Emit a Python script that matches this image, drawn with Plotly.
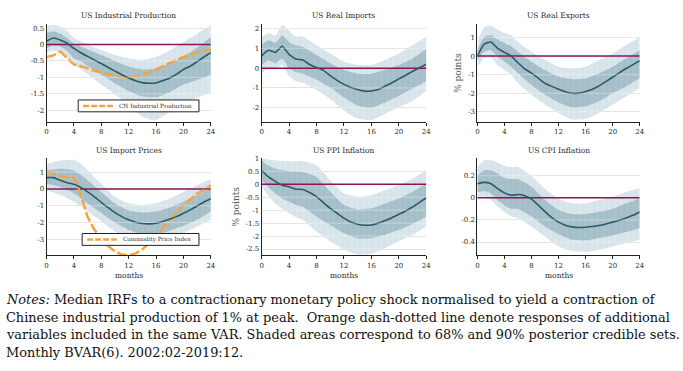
import plotly.graph_objects as go

# ---------------- data ----------------
MONTHS = list(range(25))
BX = [0, 1, 2, 3, 4, 5, 6, 8, 10, 12, 14, 16, 18, 20, 22, 24]   # months where band edges were read
XTICKS = [0, 4, 8, 12, 16, 20, 24]

TITLES = ["US Industrial Production", "US Real Imports", "US Real Exports",
          "US Import Prices", "US PPI Inflation", "US CPI Inflation"]

# Panel 1: US Industrial Production
ip_med = [0.1, 0.2, 0.14, 0.04, -0.12, -0.25, -0.36, -0.47, -0.58, -0.7, -0.81, -0.92, -1.02,
          -1.1, -1.16, -1.18, -1.17, -1.1, -1.02, -0.9, -0.76, -0.66, -0.52, -0.38, -0.25]
ip_ou = [0.55, 0.6, 0.55, 0.42, 0.2, 0.1, 0.0, -0.17, -0.32, -0.42, -0.47, -0.38, -0.18, 0.08, 0.33, 0.6]
ip_iu = [0.35, 0.4, 0.33, 0.2, 0.03, -0.06, -0.15, -0.32, -0.5, -0.67, -0.76, -0.72, -0.58, -0.37, -0.1, 0.23]
ip_il = [-0.12, -0.02, -0.06, -0.2, -0.42, -0.52, -0.65, -0.92, -1.18, -1.42, -1.58, -1.6, -1.45, -1.22, -1.08, -0.92]
ip_ol = [-0.25, -0.18, -0.25, -0.4, -0.62, -0.75, -0.9, -1.22, -1.52, -1.82, -2.2, -2.3, -2.05, -1.77, -1.62, -1.47]
cn_ip = [-0.38, -0.33, -0.22, -0.42, -0.6, -0.66, -0.72, -0.8, -0.85, -0.9, -0.94, -0.98, -1.0,
         -0.98, -0.92, -0.84, -0.76, -0.66, -0.56, -0.47, -0.38, -0.3, -0.24, -0.19, -0.15]

# Panel 2: US Real Imports
im_med = [0.62, 0.9, 0.79, 1.1, 0.69, 0.46, 0.41, 0.18, 0.03, -0.11, -0.38, -0.62, -0.82,
          -0.97, -1.08, -1.16, -1.15, -1.08, -0.9, -0.74, -0.54, -0.36, -0.16, 0.02, 0.2]
im_ou = [1.56, 1.77, 1.64, 2.18, 1.88, 1.6, 1.6, 1.15, 0.74, 0.33, 0.16, 0.16, 0.41, 0.74, 1.15, 1.6]
im_iu = [1.15, 1.4, 1.27, 1.64, 1.31, 1.15, 1.07, 0.66, 0.25, -0.08, -0.28, -0.28, -0.08, 0.16, 0.49, 0.98]
im_il = [0.16, 0.38, 0.25, 0.49, 0.0, -0.2, -0.28, -0.57, -0.98, -1.48, -1.89, -2.0, -1.72, -1.39, -1.03, -0.66]
im_ol = [-0.25, 0.0, -0.08, 0.16, -0.41, -0.66, -0.74, -1.1, -1.56, -2.13, -2.54, -2.62, -2.3, -1.97, -1.64, -1.15]

# Panel 3: US Real Exports
ex_med = [0.0, 0.64, 0.76, 0.41, 0.2, 0.0, -0.36, -0.69, -0.92, -1.19, -1.46, -1.63, -1.78,
          -1.92, -2.0, -1.99, -1.9, -1.78, -1.6, -1.37, -1.14, -0.89, -0.67, -0.46, -0.25]
ex_ou = [0.76, 1.56, 1.65, 1.42, 1.24, 1.12, 0.76, 0.23, -0.21, -0.57, -0.66, -0.57, -0.21, 0.14, 0.59, 1.03]
ex_iu = [0.32, 1.03, 1.12, 0.89, 0.71, 0.53, 0.23, -0.3, -0.75, -1.1, -1.24, -1.19, -0.92, -0.57, -0.12, 0.32]
ex_il = [-0.21, 0.23, 0.32, -0.04, -0.3, -0.57, -0.92, -1.55, -2.08, -2.49, -2.75, -2.7, -2.43, -1.99, -1.63, -1.19]
ex_ol = [-0.57, -0.12, -0.07, -0.48, -0.75, -1.01, -1.46, -2.08, -2.61, -3.06, -3.41, -3.37, -3.06, -2.61, -2.17, -1.72]

# Panel 4: US Import Prices
ipr_med = [0.67, 0.67, 0.51, 0.37, 0.27, 0.08, -0.18, -0.47, -0.8, -1.12, -1.41, -1.65, -1.84,
           -1.98, -2.06, -2.08, -2.04, -1.94, -1.8, -1.65, -1.45, -1.25, -1.02, -0.78, -0.59]
ipr_ou = [1.49, 1.6, 1.69, 1.72, 1.73, 1.49, 1.1, 0.31, -0.47, -0.86, -0.96, -0.86, -0.57, -0.18, 0.22, 0.61]
ipr_iu = [1.1, 1.15, 1.2, 1.17, 1.1, 0.85, 0.51, -0.18, -0.86, -1.29, -1.41, -1.35, -1.1, -0.76, -0.37, 0.02]
ipr_il = [0.31, 0.22, 0.12, -0.05, -0.27, -0.55, -0.86, -1.45, -2.0, -2.43, -2.73, -2.73, -2.49, -2.2, -1.84, -1.35]
ipr_ol = [-0.08, -0.22, -0.37, -0.55, -0.76, -1.05, -1.35, -1.94, -2.53, -3.02, -3.31, -3.25, -3.02, -2.63, -2.24, -1.84]
cpi_idx = [1.04, 0.9, 0.76, 0.7, 0.67, -0.37, -1.65, -2.43, -2.92, -3.41, -3.7, -3.9, -3.94,
           -3.84, -3.6, -3.2, -2.82, -2.33, -1.84, -1.45, -0.96, -0.63, -0.27, -0.08, 0.22]

# Panel 5: US PPI Inflation
ppi_med = [0.53, 0.28, 0.11, -0.04, -0.1, -0.19, -0.2, -0.32, -0.48, -0.71, -0.93, -1.12, -1.31,
           -1.46, -1.54, -1.58, -1.57, -1.5, -1.4, -1.29, -1.16, -1.03, -0.88, -0.7, -0.52]
ppi_ou = [1.0, 0.95, 0.92, 0.9, 0.89, 0.89, 0.89, 0.73, 0.15, -0.36, -0.48, -0.42, -0.23, -0.04, 0.22, 0.53]
ppi_iu = [0.92, 0.72, 0.6, 0.55, 0.51, 0.49, 0.47, 0.28, -0.29, -0.8, -0.97, -0.93, -0.74, -0.55, -0.29, 0.03]
ppi_il = [0.15, -0.12, -0.36, -0.55, -0.68, -0.8, -0.87, -1.25, -1.57, -1.89, -2.08, -2.08, -1.95, -1.76, -1.53, -1.25]
ppi_ol = [-0.1, -0.45, -0.74, -0.95, -1.12, -1.27, -1.38, -1.82, -2.2, -2.52, -2.71, -2.68, -2.46, -2.2, -1.95, -1.63]

# Panel 6: US CPI Inflation
cpi_med = [0.128, 0.14, 0.128, 0.084, 0.045, 0.024, 0.03, 0.02, -0.012, -0.066, -0.125, -0.18, -0.22,
           -0.248, -0.263, -0.269, -0.266, -0.26, -0.25, -0.236, -0.22, -0.203, -0.182, -0.158, -0.128]
cpi_ou = [0.28, 0.34, 0.34, 0.32, 0.29, 0.28, 0.28, 0.2, 0.08, -0.006, -0.05, -0.05, -0.02, 0.01, 0.054, 0.09]
cpi_iu = [0.2, 0.25, 0.25, 0.22, 0.18, 0.17, 0.17, 0.1, -0.02, -0.11, -0.146, -0.146, -0.125, -0.1, -0.05, -0.006]
cpi_il = [0.054, 0.06, 0.04, -0.02, -0.066, -0.1, -0.1, -0.17, -0.26, -0.33, -0.38, -0.385, -0.364, -0.34, -0.31, -0.275]
cpi_ol = [0.01, 0.01, -0.02, -0.08, -0.125, -0.17, -0.185, -0.26, -0.35, -0.44, -0.48, -0.49, -0.47, -0.44, -0.41, -0.38]

# y-axis ticks per panel
YT1 = [0.5, 0, -0.5, -1, -1.5, -2];       YL1 = ["0.5", "0", "-0.5", "-1", "-1.5", "-2"]
YT2 = [2, 1, 0, -1, -2];                   YL2 = ["2", "1", "0", "-1", "-2"]
YT3 = [1, 0, -1, -2, -3];                  YL3 = ["1", "0", "-1", "-2", "-3"]
YT4 = [1, 0, -1, -2, -3];                  YL4 = ["1", "0", "-1", "-2", "-3"]
YT5 = [1, 0.5, 0, -0.5, -1, -1.5, -2, -2.5]; YL5 = ["1", "0.5", "0", "-0.5", "-1", "-1.5", "-2", "-2.5"]
YT6 = [0.2, 0, -0.2, -0.4];                YL6 = ["0.2", "0", "-0.2", "-0.4"]

NOTES = [
    "<i>Notes:</i> Median IRFs to a contractionary monetary policy shock normalised to yield a contraction of",
    "Chinese industrial production of 1% at peak.  Orange dash-dotted line denote responses of additional",
    "variables included in the same VAR. Shaded areas correspond to 68% and 90% posterior credible sets.",
    "Monthly BVAR(6). 2002:02-2019:12.",
]

# ---------------- styling ----------------
FONT = "DejaVu Serif"
OUTER = "#dae6eb"
INNER = "#a8c2cc"
MEDC = "#2c5a66"
ZEROC = "#8c1457"
ORANGE = "#f4a43e"
TXT = "#2a2a2a"

panels = [
    dict(med=ip_med, ou=ip_ou, iu=ip_iu, il=ip_il, ol=ip_ol, yr=[-2.35, 0.61], yt=YT1, yl=YL1,
         extra=cn_ip, extra_name="CN Industrial Production", ytitle=None),
    dict(med=im_med, ou=im_ou, iu=im_iu, il=im_il, ol=im_ol, yr=[-2.7, 2.2], yt=YT2, yl=YL2,
         extra=None, ytitle=None),
    dict(med=ex_med, ou=ex_ou, iu=ex_iu, il=ex_il, ol=ex_ol, yr=[-3.53, 1.7], yt=YT3, yl=YL3,
         extra=None, ytitle="% points"),
    dict(med=ipr_med, ou=ipr_ou, iu=ipr_iu, il=ipr_il, ol=ipr_ol, yr=[-3.95, 1.82], yt=YT4, yl=YL4,
         extra=cpi_idx, extra_name="Commodity Price Index", ytitle=None),
    dict(med=ppi_med, ou=ppi_ou, iu=ppi_iu, il=ppi_il, ol=ppi_ol, yr=[-2.74, 1.0], yt=YT5, yl=YL5,
         extra=None, ytitle="% points"),
    dict(med=cpi_med, ou=cpi_ou, iu=cpi_iu, il=cpi_il, ol=cpi_ol, yr=[-0.52, 0.358], yt=YT6, yl=YL6,
         extra=None, ytitle=None),
]

W, H = 683, 371
col_px = [(45, 211), (262.3, 428.7), (480.3, 644.3)]
row_px = [(20.7, 119), (156, 254)]
# legend boxes (pixel boxes: left, top, right, bottom)
legend_px = {0: (77, 97, 199, 109), 3: (81, 232, 199, 244)}

fig = go.Figure()
layout = dict(width=W, height=H, margin=dict(l=0, r=0, t=0, b=0),
              paper_bgcolor="white", plot_bgcolor="white", showlegend=False,
              font=dict(family=FONT, color=TXT))
annotations = []
shapes = []


def px_x(v):
    return v / W


def px_y(v):
    return 1 - v / H


for i, p in enumerate(panels):
    r, c = divmod(i, 3)
    n = "" if i == 0 else str(i + 1)
    xa, ya = "x" + n, "y" + n
    x0, x1 = col_px[c]
    t0, t1 = row_px[r]
    dom_x = [px_x(x0), px_x(x1)]
    dom_y = [px_y(t1), px_y(t0)]

    def band(lo, hi, color, fg):
        fig.add_trace(go.Scatter(x=BX, y=lo, mode="lines", line=dict(width=0, shape="spline", smoothing=0.6),
                                 xaxis=xa, yaxis=ya, showlegend=False, hoverinfo="skip"))
        fig.add_trace(go.Scatter(x=BX, y=hi, mode="lines", line=dict(width=0, shape="spline", smoothing=0.6),
                                 fill="tonexty", fillcolor=color,
                                 fillpattern=dict(shape="|", fgcolor=fg, bgcolor=color, size=6, solidity=0.12,
                                                  fgopacity=0.6),
                                 xaxis=xa, yaxis=ya, showlegend=False, hoverinfo="skip"))

    band(p["ol"], p["ou"], OUTER, "#c2d4db")
    band(p["il"], p["iu"], INNER, "#93b0bc")

    # faint grid lines showing through the shaded bands
    for tv in p["yt"]:
        if tv != 0:
            shapes.append(dict(type="line", xref=xa + " domain", yref=ya, x0=0, x1=1, y0=tv, y1=tv,
                               line=dict(color="rgba(255,255,255,0.35)", width=1), layer="above"))

    # zero reference line
    fig.add_trace(go.Scatter(x=[MONTHS[0], MONTHS[-1]], y=[0, 0], mode="lines",
                             line=dict(color=ZEROC, width=1.5), xaxis=xa, yaxis=ya,
                             showlegend=False, hoverinfo="skip"))
    if p["extra"] is not None:
        fig.add_trace(go.Scatter(x=MONTHS, y=p["extra"], mode="lines", name=p["extra_name"],
                                 line=dict(color=ORANGE, width=2.5, dash="10px,3px", shape="spline", smoothing=0.5),
                                 xaxis=xa, yaxis=ya, showlegend=False))
        # legend box drawn as layout decoration
        lx0, ly0, lx1, ly1 = legend_px[i]
        shapes.append(dict(type="rect", xref="paper", yref="paper", x0=px_x(lx0), x1=px_x(lx1),
                           y0=px_y(ly1), y1=px_y(ly0), line=dict(color="#222", width=1),
                           fillcolor="white", layer="above"))
        ym = (ly0 + ly1) / 2
        shapes.append(dict(type="line", xref="paper", yref="paper", x0=px_x(lx0 + 5), x1=px_x(lx0 + 35),
                           y0=px_y(ym), y1=px_y(ym), line=dict(color=ORANGE, width=2.5, dash="6px,2px"),
                           layer="above"))
        annotations.append(dict(text=p["extra_name"], x=px_x(lx0 + 39), y=px_y(ym), xref="paper", yref="paper",
                                xanchor="left", yanchor="middle", showarrow=False,
                                font=dict(size=5.7, family=FONT, color=TXT)))
    fig.add_trace(go.Scatter(x=MONTHS, y=p["med"], mode="lines",
                             line=dict(color=MEDC, width=1.6, shape="spline", smoothing=0.5),
                             xaxis=xa, yaxis=ya, showlegend=False))

    layout["xaxis" + n] = dict(domain=dom_x, range=[0, 24], anchor=ya, tickvals=XTICKS,
                               ticks="outside", ticklen=3, tickcolor="#222", tickwidth=1,
                               showgrid=False, zeroline=False, showline=True,
                               linecolor="#222", linewidth=1, tickfont=dict(size=7, family=FONT, color=TXT),
                               fixedrange=True)
    layout["yaxis" + n] = dict(domain=dom_y, range=p["yr"], anchor=xa, tickvals=p["yt"], ticktext=p["yl"],
                               ticks="", showgrid=True, gridcolor="#dcdcdc", gridwidth=1, zeroline=False,
                               showline=True, linecolor="#222", linewidth=1,
                               tickfont=dict(size=7, family=FONT, color=TXT), fixedrange=True)
    if p["ytitle"]:
        layout["yaxis" + n]["title"] = dict(text=p["ytitle"], font=dict(size=9, family=FONT, color="#555"),
                                            standoff=4)
    title_y = 12 if r == 0 else 148
    annotations.append(dict(text=TITLES[i], x=(dom_x[0] + dom_x[1]) / 2, y=px_y(title_y),
                            xref="paper", yref="paper", xanchor="center", yanchor="middle", showarrow=False,
                            font=dict(size=7.5, family=FONT, color=TXT)))
    if r == 1:
        annotations.append(dict(text="months", x=(dom_x[0] + dom_x[1]) / 2, y=px_y(274),
                                xref="paper", yref="paper", xanchor="center", yanchor="middle",
                                showarrow=False, font=dict(size=7.5, family=FONT, color=TXT)))

note_y = [299, 317, 334, 352]
for txt, yy in zip(NOTES, note_y):
    annotations.append(dict(text=txt, x=px_x(2), y=px_y(yy), xref="paper", yref="paper",
                            xanchor="left", yanchor="middle", showarrow=False,
                            font=dict(size=12.9, family=FONT, color="#111")))

layout["annotations"] = annotations
layout["shapes"] = shapes
fig.update_layout(**layout)
# remove the browser's default 8px page margin so the figure sits at the window's top-left corner
fig.write_html("out.html", config={"displayModeBar": False},
               post_script="document.body.style.margin='0';")
